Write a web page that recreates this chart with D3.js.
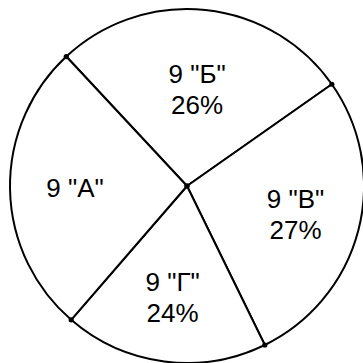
<!DOCTYPE html>
<html>
<head>
<meta charset="utf-8">
<script src="https://cdn.jsdelivr.net/npm/d3@7"></script>
<style>
  html, body { margin: 0; padding: 0; background: #fff; }
  svg { display: block; }
</style>
</head>
<body>
<svg id="chart" width="363" height="363"></svg>
<script>
// classes, clockwise starting at the upper left divider
const classes = ['9 "Б"', '9 "В"', '9 "Г"', '9 "А"']
// share of the circle each slice takes, as drawn (percent)
const shares = [27.2, 27.5, 18.6, 26.7]
// percentage text written in each slice
const pctLabels = ["26%", "27%", "24%", ""]

const width = 363, height = 363
const cx = 187, cy = 186, radius = 177
const startDeg = -43

const svg = d3.select("#chart")
const g = svg.append("g").attr("transform", `translate(${cx},${cy})`)

const pie = d3.pie()
    .sort(null)
    .value(d => d)
    .startAngle(startDeg * Math.PI / 180)
    .endAngle(startDeg * Math.PI / 180 + 2 * Math.PI)

const arcs = pie(shares)

const arc = d3.arc().innerRadius(0).outerRadius(radius)

g.selectAll("path.slice")
    .data(arcs)
    .enter()
    .append("path")
    .attr("class", "slice")
    .attr("d", arc)
    .attr("fill", "#fff")
    .attr("stroke", "#000")
    .attr("stroke-width", 2)
    .attr("stroke-linejoin", "round")

// dots where dividers meet the rim, plus the centre
g.selectAll("circle.dot")
    .data(arcs)
    .enter()
    .append("circle")
    .attr("class", "dot")
    .attr("cx", d => d3.pointRadial(d.startAngle, radius)[0])
    .attr("cy", d => d3.pointRadial(d.startAngle, radius)[1])
    .attr("r", 2.6)
    .attr("fill", "#000")

g.append("circle").attr("r", 2.8).attr("fill", "#000")

// labels
function labelR(d){
    return d.index === 0 ? 97 : 112
}
const lineH = 31
const capH = 18.5

const labels = g.selectAll("g.label")
    .data(arcs)
    .enter()
    .append("g")
    .attr("class", "label")
    .attr("transform", d => {
        const mid = (d.startAngle + d.endAngle) / 2
        const p = d3.pointRadial(mid, labelR(d))
        return `translate(${p[0]},${p[1]})`
    })

labels.each(function(d){
    const el = d3.select(this)
    const lines = [classes[d.index]]
    if (pctLabels[d.index]) lines.push(pctLabels[d.index])
    const top = -((lines.length - 1) * lineH) / 2 + capH / 2
    lines.forEach((t, i) => {
        el.append("text")
            .attr("x", 0)
            .attr("y", top + i * lineH)
            .attr("text-anchor", "middle")
            .style("font-family", "'Liberation Sans', Arial, sans-serif")
            .style("font-size", "26px")
            .style("fill", "#000")
            .text(t)
    })
})
</script>
</body>
</html>
